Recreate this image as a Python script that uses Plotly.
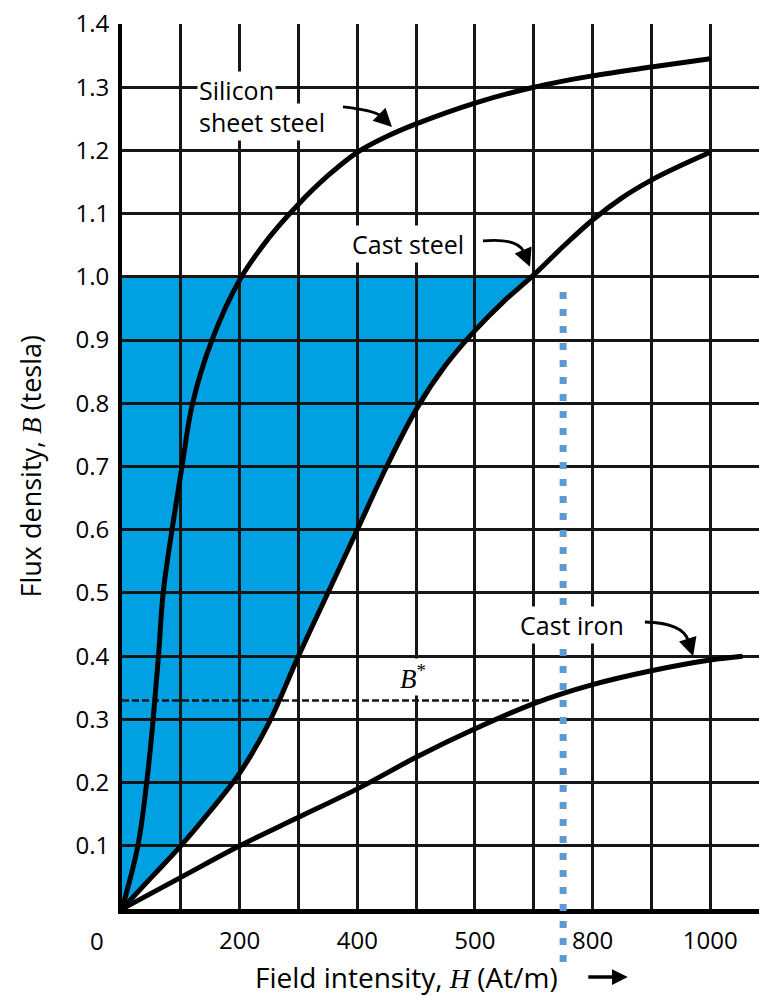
import numpy as np
import plotly.graph_objects as go

# Magnetization (B-H) curves: H in At/m, B in tesla
silicon_H = [0, 27, 42, 53, 62, 70, 85, 102, 120, 153, 200, 250, 300, 350, 400, 450, 500, 600, 700, 800, 900, 1000]
silicon_B = [0, 0.10, 0.20, 0.30, 0.40, 0.50, 0.60, 0.70, 0.80, 0.90, 0.995, 1.062, 1.115, 1.16, 1.197, 1.222, 1.242, 1.275, 1.300, 1.318, 1.332, 1.345]

cast_steel_H = [0, 50, 100, 150, 200, 250, 300, 350, 400, 450, 500, 550, 600, 650, 700, 750, 800, 850, 900, 950, 1000]
cast_steel_B = [0, 0.05, 0.10, 0.155, 0.215, 0.295, 0.40, 0.50, 0.60, 0.70, 0.79, 0.86, 0.915, 0.962, 1.003, 1.048, 1.09, 1.125, 1.153, 1.176, 1.197]

cast_iron_H = [0, 100, 200, 300, 400, 500, 600, 700, 800, 900, 1000, 1055]
cast_iron_B = [0, 0.05, 0.10, 0.145, 0.19, 0.24, 0.285, 0.325, 0.355, 0.377, 0.394, 0.40]

B_STAR = 0.33          # operating flux density level
H_MARK = 750           # vertical marker at this field intensity
B_SHADE_TOP = 1.0      # shaded region upper bound

x_tickvals = list(range(0, 1001, 100))
x_ticktext = ["", "", "200", "", "400", "", "500", "", "800", "", "1000"]
y_tickvals = [round(0.1 * i, 1) for i in range(1, 15)]
y_ticktext = [f"{v:.1f}" for v in y_tickvals]

SANS = "Open Sans, Liberation Sans, Arial, sans-serif"
SERIF = "Liberation Serif, DejaVu Serif, serif"
GRID = "#161616"
BLUE = "rgb(0,160,227)"

fig = go.Figure()

for hs, bs in [(silicon_H, silicon_B), (cast_steel_H, cast_steel_B), (cast_iron_H, cast_iron_B)]:
    fig.add_trace(go.Scatter(x=hs, y=bs, mode="lines",
                             line=dict(color="black", width=5, shape="spline", smoothing=1.0),
                             hoverinfo="skip", showlegend=False))

# shaded area: left of the cast-steel curve, below B = 1.0
h_top = float(np.interp(B_SHADE_TOP, cast_steel_B, cast_steel_H))
pts = [(h, b) for h, b in zip(cast_steel_H, cast_steel_B) if b < B_SHADE_TOP]
pts.append((h_top, B_SHADE_TOP))
path = "M " + " L ".join(f"{h},{b}" for h, b in pts)
path += f" L 0,{B_SHADE_TOP} Z"
shapes = [dict(type="path", path=path, xref="x", yref="y", layer="below",
               fillcolor=BLUE, line=dict(width=0))]

# B* level line up to the cast-iron curve
h_star = float(np.interp(B_STAR, cast_iron_B, cast_iron_H))
shapes.append(dict(type="line", xref="x", yref="y", x0=0, x1=h_star, y0=B_STAR, y1=B_STAR,
                   line=dict(color=GRID, width=2.5, dash="7px,3px"), layer="below"))

# dotted vertical marker
shapes.append(dict(type="line", xref="x", yref="paper", x0=H_MARK, x1=H_MARK, y0=-0.06, y1=0.70,
                   line=dict(color="#5B9BD5", width=7, dash="7px,10px"), layer="above"))

# curved leader lines for the curve labels
leaders = [
    ((375.7, 1.2688), (425.0, 1.264), (459.0, 1.237), (440.0, 1.2546)),
    ((613.7, 1.057), (672.0, 1.0617), (693.6, 1.0158), (683.0, 1.040)),
    ((889.0, 0.454), (954.0, 0.4525), (971.0, 0.400), (963.0, 0.424)),
]
annotations = []
for (sx, sy), (cx, cy), (tx, ty), (bx, by) in leaders:
    shapes.append(dict(type="path", xref="x", yref="y",
                       path=f"M {sx},{sy} Q {cx},{cy} {bx},{by}",
                       line=dict(color="black", width=2.8)))
    annotations.append(dict(x=tx, y=ty, xref="x", yref="y", ax=bx, ay=by, axref="x", ayref="y",
                            text="", showarrow=True, arrowhead=2, arrowsize=1.3,
                            arrowwidth=2.8, arrowcolor="black", standoff=0))

label_font = dict(family=SANS, size=25, color="black")
for txt, x, y, anchor in [("Silicon", 127.5, 1.296, "left"),
                          ("sheet steel", 127.5, 1.245, "left"),
                          ("Cast steel", 387.6, 1.052, "left"),
                          ("Cast iron", 673.0, 0.449, "left")]:
    annotations.append(dict(x=x, y=y, xref="x", yref="y", text=txt, showarrow=False,
                            xanchor=anchor, yanchor="middle", font=label_font,
                            bgcolor="white", borderpad=1))

annotations.append(dict(x=495, y=0.367, xref="x", yref="y", showarrow=False,
                        text="<i>B</i><sup>*</sup>", bgcolor="white",
                        font=dict(family=SERIF, size=27, color="black")))

# axis titles and the lone origin label
annotations.append(dict(x=0, y=0.5, xref="paper", yref="paper", xshift=-92, textangle=-90,
                        showarrow=False, xanchor="center", yanchor="middle",
                        text="Flux density, <span style='font-family:Liberation Serif'><i>B</i></span> (tesla)",
                        font=dict(family=SANS, size=27, color="black")))
annotations.append(dict(x=0.447, y=0, xref="paper", yref="paper", yshift=-68,
                        showarrow=False, xanchor="center", yanchor="middle",
                        text="Field intensity, <span style='font-family:Liberation Serif'><i>H</i></span> (At/m)",
                        font=dict(family=SANS, size=28, color="black")))
annotations.append(dict(x=0.794, y=0, xref="paper", yref="paper", yshift=-68,
                        ax=-41, ay=0, text="", showarrow=True, arrowhead=2,
                        arrowsize=0.9, arrowwidth=3.5, arrowcolor="black", standoff=0))
annotations.append(dict(x=0, y=0, xref="paper", yref="paper", xshift=-25, yshift=-31,
                        text="0", showarrow=False, xanchor="center", yanchor="middle",
                        font=dict(family=SANS, size=24, color="black")))

fig.update_layout(
    width=759, height=997,
    margin=dict(l=122, r=0, t=24, b=88),
    paper_bgcolor="white", plot_bgcolor="white",
    shapes=shapes, annotations=annotations,
    showlegend=False,
    xaxis=dict(range=[0, 1083], tickmode="array", tickvals=x_tickvals, ticktext=x_ticktext,
               showgrid=True, gridcolor=GRID, gridwidth=2.5, zeroline=False,
               showline=True, linecolor="black", linewidth=5, ticks="",
               ticklabelstandoff=6, tickfont=dict(family=SANS, size=24, color="black")),
    yaxis=dict(range=[0, 1.4], tickmode="array", tickvals=y_tickvals, ticktext=y_ticktext,
               showgrid=True, gridcolor=GRID, gridwidth=2.5, zeroline=False,
               showline=True, linecolor="black", linewidth=4, ticks="",
               ticklabelstandoff=4, tickfont=dict(family=SANS, size=24, color="black")),
)

fig.write_html("out.html")
